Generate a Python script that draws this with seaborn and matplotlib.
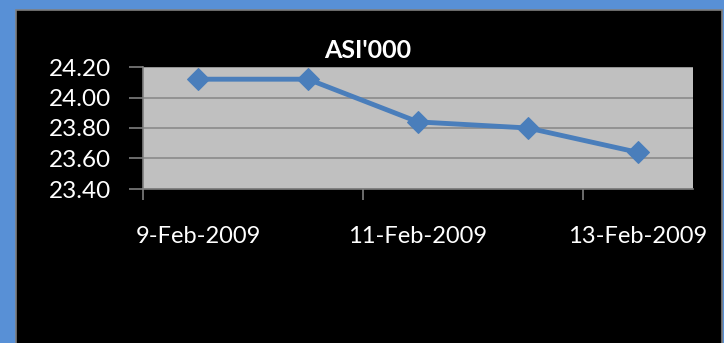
import matplotlib
matplotlib.use("Agg")
import matplotlib.pyplot as plt
import seaborn as sns
import pandas as pd
from matplotlib.patches import Rectangle
from matplotlib.ticker import FixedLocator, NullFormatter

# data
dates = ["9-Feb-2009", "10-Feb-2009", "11-Feb-2009", "12-Feb-2009", "13-Feb-2009"]
asi_values = [24.12, 24.12, 23.84, 23.80, 23.64]
y_ticks = [23.40, 23.60, 23.80, 24.00, 24.20]

df = pd.DataFrame({"pos": range(len(dates)), "date": dates, "asi": asi_values})

sns.set_theme(style="white")
plt.rcParams["font.family"] = ["Lato", "DejaVu Sans"]

W, H = 724, 343
fig = plt.figure(figsize=(W / 100, H / 100), dpi=100)
fig.patch.set_facecolor("#5890d6")

# black chart area with thin gray frame
fig.patches.append(Rectangle((16 / W, -0.01), (722 - 16) / W, (H - 10) / H + 0.01,
                             transform=fig.transFigure, facecolor="black",
                             edgecolor="#7f7f7f", linewidth=1.2, zorder=-10))

ax = fig.add_axes([143 / W, 1 - 189 / H, (693 - 143) / W, (189 - 67) / H])
ax.set_facecolor("#c0c0c0")

sns.lineplot(data=df, x="pos", y="asi", ax=ax, color="#4a7ebb", linewidth=3.5,
             marker="D", markersize=11, markeredgecolor="#4a7ebb", zorder=3)

ax.set_xlim(-0.5, len(dates) - 0.5)
ax.set_ylim(23.40, 24.20)
ax.set_yticks(y_ticks)
ax.set_yticklabels([f"{v:.2f}" for v in y_ticks])
ax.grid(axis="y", color="#8a8a8a", linewidth=1.2)
ax.set_axisbelow(True)

# labels on every other date, tick marks at category boundaries
ax.xaxis.set_major_locator(FixedLocator([0, 2, 4]))
ax.set_xticklabels([dates[0], dates[2], dates[4]])
ax.xaxis.set_minor_locator(FixedLocator([-0.5, 1.5, 3.5]))
ax.xaxis.set_minor_formatter(NullFormatter())
ax.tick_params(axis="x", which="both", bottom=True)
ax.tick_params(axis="y", which="major", left=True)
ax.tick_params(axis="x", which="major", length=0, pad=27, labelsize=17, labelcolor="white")
ax.tick_params(axis="x", which="minor", length=8, width=1.2, color="#7f7f7f", direction="out")
ax.tick_params(axis="y", length=10, width=1.2, color="#7f7f7f", direction="out",
               labelsize=17.5, labelcolor="white", pad=13)

for side in ["top", "right"]:
    ax.spines[side].set_visible(False)
for side in ["left", "bottom"]:
    ax.spines[side].set_color("#7f7f7f")
    ax.spines[side].set_linewidth(1.2)

ax.set_xlabel("")
ax.set_ylabel("")

fig.text(368 / W, 1 - 51 / H, "ASI'000", ha="center", va="center",
         color="white", fontsize=18, fontweight="bold")

fig.savefig("out.png", dpi=100, facecolor=fig.get_facecolor())
